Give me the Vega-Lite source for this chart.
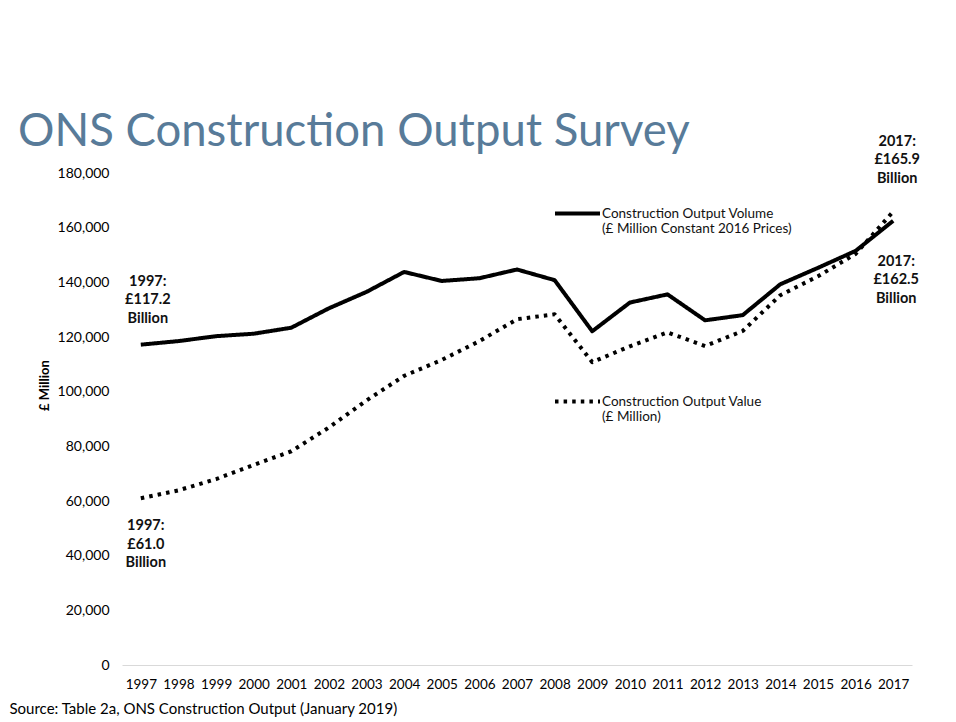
{
  "$schema": "https://vega.github.io/schema/vega-lite/v6.json",
  "width": 790,
  "height": 492,
  "autosize": {"type": "none"},
  "padding": {"left": 122, "top": 173, "right": 44, "bottom": 57},
  "background": "white",
  "config": {"view": {"stroke": null}, "font": "Lato"},
  "title": {
    "text": "ONS Construction Output Survey",
    "anchor": "start",
    "frame": "group",
    "dx": -104,
    "dy": 31,
    "fontSize": 45.5,
    "fontWeight": "normal",
    "color": "#587b99",
    "offset": 9
  },
  "datasets": {
    "output": [
      {"year": "1997", "series": "Construction Output Volume", "value": 117200},
      {"year": "1998", "series": "Construction Output Volume", "value": 118500},
      {"year": "1999", "series": "Construction Output Volume", "value": 120300},
      {"year": "2000", "series": "Construction Output Volume", "value": 121200},
      {"year": "2001", "series": "Construction Output Volume", "value": 123400},
      {"year": "2002", "series": "Construction Output Volume", "value": 130500},
      {"year": "2003", "series": "Construction Output Volume", "value": 136500},
      {"year": "2004", "series": "Construction Output Volume", "value": 143800},
      {"year": "2005", "series": "Construction Output Volume", "value": 140500},
      {"year": "2006", "series": "Construction Output Volume", "value": 141500},
      {"year": "2007", "series": "Construction Output Volume", "value": 144700},
      {"year": "2008", "series": "Construction Output Volume", "value": 140800},
      {"year": "2009", "series": "Construction Output Volume", "value": 122100},
      {"year": "2010", "series": "Construction Output Volume", "value": 132600},
      {"year": "2011", "series": "Construction Output Volume", "value": 135600},
      {"year": "2012", "series": "Construction Output Volume", "value": 126100},
      {"year": "2013", "series": "Construction Output Volume", "value": 128000},
      {"year": "2014", "series": "Construction Output Volume", "value": 139300},
      {"year": "2015", "series": "Construction Output Volume", "value": 145300},
      {"year": "2016", "series": "Construction Output Volume", "value": 151500},
      {"year": "2017", "series": "Construction Output Volume", "value": 162500},
      {"year": "1997", "series": "Construction Output Value", "value": 61000},
      {"year": "1998", "series": "Construction Output Value", "value": 63900},
      {"year": "1999", "series": "Construction Output Value", "value": 68000},
      {"year": "2000", "series": "Construction Output Value", "value": 73200},
      {"year": "2001", "series": "Construction Output Value", "value": 78200},
      {"year": "2002", "series": "Construction Output Value", "value": 86900},
      {"year": "2003", "series": "Construction Output Value", "value": 96800},
      {"year": "2004", "series": "Construction Output Value", "value": 105800},
      {"year": "2005", "series": "Construction Output Value", "value": 111600},
      {"year": "2006", "series": "Construction Output Value", "value": 118500},
      {"year": "2007", "series": "Construction Output Value", "value": 126500},
      {"year": "2008", "series": "Construction Output Value", "value": 128300},
      {"year": "2009", "series": "Construction Output Value", "value": 110800},
      {"year": "2010", "series": "Construction Output Value", "value": 116600},
      {"year": "2011", "series": "Construction Output Value", "value": 121700},
      {"year": "2012", "series": "Construction Output Value", "value": 116700},
      {"year": "2013", "series": "Construction Output Value", "value": 122200},
      {"year": "2014", "series": "Construction Output Value", "value": 135300},
      {"year": "2015", "series": "Construction Output Value", "value": 142200},
      {"year": "2016", "series": "Construction Output Value", "value": 150400},
      {"year": "2017", "series": "Construction Output Value", "value": 165900}
    ]
  },
  "encoding": {
    "x": {
      "field": "year",
      "type": "ordinal",
      "scale": {"type": "point", "padding": 0.5},
      "axis": {
        "title": "Source: Table 2a, ONS Construction Output (January 2019)",
        "titleX": -113,
        "titleY": 43,
        "titleAlign": "left",
        "titleAnchor": "start",
        "titleBaseline": "middle",
        "titleFontWeight": "normal",
        "titleFontSize": 15,
        "titleColor": "#000000",
        "labelAngle": 0,
        "ticks": false,
        "grid": false,
        "domainColor": "#d9d9d9",
        "domainWidth": 1,
        "labelPadding": 12,
        "labelFontSize": 13.5,
        "labelColor": "#000000"
      }
    },
    "y": {
      "field": "value",
      "type": "quantitative",
      "scale": {"domain": [0, 180000], "nice": false},
      "axis": {
        "title": "£ Million",
        "titleX": -78,
        "titleY": 212,
        "titleAngle": -90,
        "titleAlign": "center",
        "titleBaseline": "middle",
        "titleFontSize": 13,
        "titleFontWeight": "bold",
        "titleColor": "#000000",
        "values": [0, 20000, 40000, 60000, 80000, 100000, 120000, 140000, 160000, 180000],
        "format": ",d",
        "domain": false,
        "ticks": false,
        "grid": false,
        "labelPadding": 13,
        "labelFontSize": 14,
        "labelColor": "#000000"
      }
    }
  },
  "layer": [
    {
      "data": {"name": "output"},
      "mark": {"type": "line", "strokeWidth": 4, "color": "#000000", "strokeJoin": "round"},
      "encoding": {
        "strokeDash": {
          "field": "series",
          "type": "nominal",
          "scale": {
            "domain": ["Construction Output Volume", "Construction Output Value"],
            "range": [[1, 0], [3.5, 5.1]]
          },
          "legend": {
            "title": null,
            "orient": "none",
            "legendX": 431,
            "legendY": 16,
            "padding": 0,
            "symbolType": "stroke",
            "symbolSize": 2025,
            "symbolStrokeWidth": 4,
            "symbolStrokeColor": "#000000",
            "labelFontSize": 13.5,
            "labelColor": "#111111",
            "labelOffset": 0,
            "labelLimit": 0,
            "labelBaseline": "middle",
            "rowPadding": 141,
            "labelExpr": "datum.label == 'Construction Output Volume' ? ['Construction Output Volume', '(£ Million Constant 2016 Prices)'] : ['Construction Output Value', '(£ Million)']"
          }
        }
      }
    },
    {
      "data": {"values": [{"year": "1997", "value": 117200, "label": ["1997:", "£117.2", "Billion"]}]},
      "mark": {"type": "text", "align": "center", "baseline": "bottom", "dx": 7, "dy": -56, "fontWeight": "bold", "fontSize": 14.5, "lineHeight": 18.5, "color": "#111111"},
      "encoding": {"text": {"field": "label"}}
    },
    {
      "data": {"values": [{"year": "1997", "value": 61000, "label": ["1997:", "£61.0", "Billion"]}]},
      "mark": {"type": "text", "align": "center", "baseline": "top", "dx": 5, "dy": 21, "fontWeight": "bold", "fontSize": 14.5, "lineHeight": 18.5, "color": "#111111"},
      "encoding": {"text": {"field": "label"}}
    },
    {
      "data": {"values": [{"year": "2017", "value": 165900, "label": ["2017:", "£165.9", "Billion"]}]},
      "mark": {"type": "text", "align": "center", "baseline": "bottom", "dx": 4, "dy": -63, "fontWeight": "bold", "fontSize": 14.5, "lineHeight": 18.5, "color": "#111111"},
      "encoding": {"text": {"field": "label"}}
    },
    {
      "data": {"values": [{"year": "2017", "value": 162500, "label": ["2017:", "£162.5", "Billion"]}]},
      "mark": {"type": "text", "align": "center", "baseline": "top", "dx": 3, "dy": 34, "fontWeight": "bold", "fontSize": 14.5, "lineHeight": 18.5, "color": "#111111"},
      "encoding": {"text": {"field": "label"}}
    }
  ]
}
